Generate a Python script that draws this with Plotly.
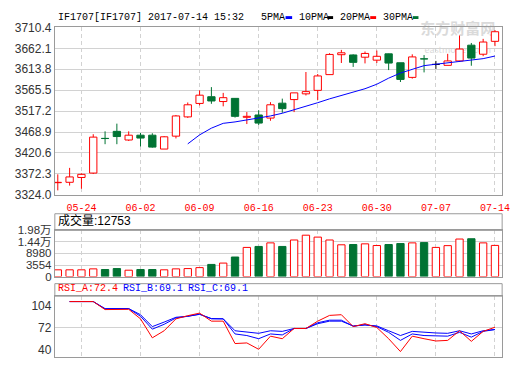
import plotly.graph_objects as go

# ---------------- data ----------------
dates = ["05-22", "05-23", "05-24", "05-25", "05-26", "05-31", "06-01", "06-02",
         "06-05", "06-06", "06-07", "06-08", "06-09",
         "06-12", "06-13", "06-14", "06-15", "06-16",
         "06-19", "06-20", "06-21", "06-22", "06-23",
         "06-26", "06-27", "06-28", "06-29", "06-30",
         "07-03", "07-04", "07-05", "07-06", "07-07",
         "07-10", "07-11", "07-12", "07-13", "07-14"]

open_ = [3351.8, 3352.7, 3363.8, 3374.0, 3454.2, 3470.4, 3450.4, 3461.5, 3461.5, 3429.5,
         3459.3, 3503.8, 3534.9, 3550.4, 3539.3, 3546.6, 3502.9, 3508.2, 3501.1, 3535.5,
         3543.8, 3557.1, 3565.1, 3601.5, 3647.5, 3646.9, 3641.7, 3634.9, 3649.5, 3628.9,
         3595.1, 3638.0, 3625.1, 3622.9, 3633.1, 3669.5, 3648.6, 3678.4]
high = [3371.1, 3386.0, 3373.3, 3463.8, 3470.4, 3488.2, 3470.4, 3466.6, 3466.0, 3459.3,
        3508.2, 3537.1, 3565.1, 3572.6, 3559.3, 3547.0, 3514.9, 3519.3, 3537.8, 3546.0,
        3559.5, 3607.5, 3602.9, 3651.0, 3658.6, 3648.4, 3654.9, 3657.1, 3650.0, 3629.0,
        3648.4, 3646.6, 3633.1, 3649.5, 3691.9, 3674.6, 3684.1, 3704.4]
low = [3334.0, 3345.1, 3337.8, 3371.8, 3440.7, 3440.7, 3448.2, 3435.5, 3432.7, 3429.5,
       3454.0, 3501.5, 3530.4, 3534.0, 3528.2, 3502.2, 3487.3, 3485.1, 3494.9, 3513.3,
       3514.9, 3553.3, 3542.9, 3601.0, 3628.4, 3619.3, 3627.4, 3628.4, 3612.0, 3584.4,
       3592.2, 3606.6, 3614.6, 3622.9, 3630.9, 3622.0, 3644.1, 3667.3]
close = [3352.6, 3365.1, 3371.1, 3457.1, 3453.8, 3458.4, 3461.5, 3454.9, 3434.0, 3457.8,
         3506.0, 3531.8, 3554.0, 3540.6, 3548.2, 3505.1, 3505.1, 3489.5, 3531.8, 3522.9,
         3559.3, 3562.2, 3598.4, 3648.1, 3651.9, 3629.8, 3650.4, 3643.8, 3628.2, 3590.4,
         3642.4, 3637.6, 3625.1, 3633.1, 3660.6, 3639.7, 3676.8, 3700.6]

ma_line = [None] * 11 + [3441.5, 3462.2, 3477.8, 3488.9, 3492.2, 3496.6, 3501.1, 3506.0,
                         3512.2, 3520.0, 3528.2, 3536.6, 3545.5, 3553.3, 3561.1, 3568.9,
                         3579.3, 3593.3, 3605.1, 3614.4, 3622.2, 3625.5, 3628.4, 3631.1,
                         3634.4, 3638.4, 3644.4]

volume = [1298, 1298, 1298, 1749, 1433, 1885, 1118, 1433, 1433, 1298,
          1749, 1885, 2336, 3825, 4457, 7300, 11813, 12265, 13935, 12265,
          15288, 17545, 16642, 15288, 13032, 13167, 13483, 12700, 13167, 13619,
          13935, 14070, 11813, 12650, 15740, 15875, 13935, 12753]

rsi_a = [None, 109.5, 109.5, 109.5, 97.9, 98.3, 98.3, 84.5, 57.1, 67.3, 84.5,
         89.1, 92.8, 81.2, 81.2, 48.8, 49.7, 40.5, 59.5, 55.8, 70.6,
         70.6, 81.2, 89.5, 90.5, 73.3, 77.5, 72.0, 55.8, 37.2, 59.5,
         55.8, 52.5, 53.4, 67.3, 52.0, 66.4, 72.4]
rsi_b = [None, 109.5, 109.5, 109.5, 98.8, 99.3, 99.3, 88.2, 69.6, 76.6, 85.8,
         88.2, 91.4, 84.5, 84.5, 62.7, 60.4, 55.8, 62.7, 61.3, 70.6,
         70.6, 78.9, 82.6, 82.6, 73.8, 76.1, 73.3, 65.0, 53.4, 62.7,
         60.4, 59.5, 59.5, 65.0, 58.1, 66.4, 69.1]
rsi_c = [None, 109.5, 109.5, 109.5, 99.3, 99.3, 99.3, 90.5, 73.3, 79.8, 86.8,
         88.2, 91.0, 85.0, 84.5, 67.3, 65.9, 63.6, 67.3, 66.4, 70.6,
         70.6, 77.5, 81.2, 81.2, 74.3, 75.6, 74.3, 67.3, 60.4, 66.4,
         65.0, 64.1, 63.6, 67.3, 62.7, 67.3, 69.1]

price_ticks = [3324.0, 3372.3, 3420.6, 3468.9, 3517.2, 3565.5, 3613.8, 3662.1, 3710.4]
vol_floor = -1861          # bottom of the volume scale (labelled "0" in the source chart)
vol_ticks = [vol_floor, 3554, 8980, 14400, 19800]
vol_tick_text = ["0", "3554", "8980", "1.44万", "1.98万"]
rsi_ticks = [40, 72, 104]
date_ticks = ["05-24", "06-02", "06-09", "06-16", "06-23", "06-30", "07-07", "07-14"]
title_text = "IF1707[IF1707] 2017-07-14 15:32"
vol_header = "成交量:12753"
rsi_header = [("RSI_A:72.4", "#ff0000"), ("RSI_B:69.1", "#0000ff"), ("RSI_C:69.1", "#0000ff")]
ma_legend = [("5PMA", "#0000ff"), ("10PMA", "#000000"), ("20PMA", "#ff0000"), ("30PMA", "#007333")]

# ---------------- style ----------------
W, H = 520, 365
RED = "#ff0000"
GREEN = "#007333"
GRID = "#d2d2d2"
FRAME = "#9a9a9a"
DASH = "4px,3px"
MONO = "Liberation Mono, DejaVu Sans Mono, monospace"
SANS = "Liberation Sans, Arial, Noto Sans CJK SC, sans-serif"

def px_x(p):
    return p / W

def px_y(p):
    return 1 - p / H

XD = [px_x(55.7), px_x(510)]
idx = list(range(len(dates)))
tick_idx = [dates.index(d) for d in date_ticks]

fig = go.Figure()

# ---- candles: wicks ----
def wick_segments(cond):
    xs, ys = [], []
    for i in idx:
        o, c = open_[i], close[i]
        if not cond(o, c):
            continue
        top, bot = max(o, c), min(o, c)
        xs += [i, i, None, i, i, None]
        ys += [high[i], top, None, bot, low[i], None]
    return xs, ys

for cond, col in [(lambda o, c: c > o, RED), (lambda o, c: c < o, GREEN),
                  (lambda o, c: c == o, "#000000")]:
    wx, wy = wick_segments(cond)
    fig.add_trace(go.Scatter(x=wx, y=wy, mode="lines", line=dict(color=col, width=1),
                             hoverinfo="skip", showlegend=False, xaxis="x", yaxis="y"))

# ---- candles: bodies ----
body_fill, body_line = [], []
for o, c in zip(open_, close):
    if c > o:
        body_fill.append("#ffffff"); body_line.append(RED)
    elif c < o:
        body_fill.append(GREEN); body_line.append(GREEN)
    else:
        body_fill.append("#000000"); body_line.append("#000000")
fig.add_trace(go.Bar(x=idx, y=[abs(c - o) for o, c in zip(open_, close)],
                     base=[min(o, c) for o, c in zip(open_, close)],
                     width=0.62, marker=dict(color=body_fill, line=dict(color=body_line, width=1)),
                     showlegend=False, xaxis="x", yaxis="y"))

# ---- moving average ----
fig.add_trace(go.Scatter(x=idx, y=ma_line, mode="lines", line=dict(color="#0000ff", width=1),
                         showlegend=False, xaxis="x", yaxis="y"))

# ---- volume ----
vfill, vline = [], []
for o, c in zip(open_, close):
    if c >= o:
        vfill.append("#ffffff"); vline.append(RED)
    else:
        vfill.append(GREEN); vline.append(GREEN)
fig.add_trace(go.Bar(x=idx, y=[v - vol_floor for v in volume], base=vol_floor, width=0.62,
                     marker=dict(color=vfill, line=dict(color=vline, width=1)),
                     showlegend=False, xaxis="x2", yaxis="y2"))

# ---- RSI ----
for series, col in [(rsi_c, "#0000ff"), (rsi_b, "#0000ff"), (rsi_a, "#ff0000")]:
    fig.add_trace(go.Scatter(x=idx, y=series, mode="lines", line=dict(color=col, width=1),
                             showlegend=False, xaxis="x3", yaxis="y3"))

# ---------------- axes ----------------
xcommon = dict(range=[-0.25, 37.608], tickmode="array", tickvals=tick_idx,
               showgrid=True, gridcolor=GRID, griddash=DASH, gridwidth=1,
               showline=True, linecolor=FRAME, linewidth=1, mirror=True,
               zeroline=False, domain=XD, fixedrange=True)
ycommon = dict(gridcolor=GRID, gridwidth=1, showline=True,
               linecolor=FRAME, linewidth=1, mirror=True, zeroline=False,
               tickfont=dict(family=SANS, size=12, color="#333333"), ticks="",
               fixedrange=True)

fig.update_layout(
    width=W, height=H, margin=dict(l=0, r=0, t=0, b=0),
    paper_bgcolor="#ffffff", plot_bgcolor="#ffffff",
    bargap=0, barmode="overlay", showlegend=False,
    xaxis=dict(**xcommon, anchor="y", ticktext=date_ticks, showticklabels=True,
               tickfont=dict(family=MONO, size=10, color=RED),
               ticks="outside", ticklen=3, tickcolor="rgba(0,0,0,0)"),
    yaxis=dict(**ycommon, showgrid=True, domain=[px_y(195.2), px_y(21.3)],
               range=[3324.0, 3710.4], tickmode="array", tickvals=price_ticks,
               ticktext=[f"{v:.1f}" for v in price_ticks]),
    xaxis2=dict(**xcommon, anchor="y2", showticklabels=False, matches="x"),
    yaxis2=dict(**{k: v for k, v in ycommon.items() if k != "tickfont"},
                tickfont=dict(family=SANS, size=11.5, color="#333333"),
                showgrid=True, domain=[px_y(280.3), px_y(232.3)], range=[vol_floor, 19800],
                tickmode="array", tickvals=vol_ticks, ticktext=vol_tick_text, anchor="x2"),
    xaxis3=dict(**xcommon, anchor="y3", showticklabels=False, matches="x"),
    yaxis3=dict(**ycommon, showgrid=False,
                domain=[px_y(364.3), px_y(300.7)], range=[28.9, 117.3],
                tickmode="array", tickvals=rsi_ticks, anchor="x3"),
)

shapes = [
    # header boxes of volume and RSI panels
    dict(type="rect", xref="paper", yref="paper", x0=XD[0], x1=XD[1],
         y0=px_y(232.3), y1=px_y(215), line=dict(color=FRAME, width=1)),
    dict(type="rect", xref="paper", yref="paper", x0=XD[0], x1=XD[1],
         y0=px_y(300.7), y1=px_y(287.7), line=dict(color=FRAME, width=1)),
    # RSI middle grid line
    dict(type="line", xref="x3 domain", yref="y3", x0=0, x1=1, y0=72, y1=72,
         line=dict(color=GRID, width=1), layer="below"),
    # watermark
    dict(type="rect", xref="paper", yref="paper", x0=px_x(418), x1=px_x(512),
         y0=px_y(45), y1=px_y(21), line=dict(width=0), layer="between",
         label=dict(text="<b>东方财富网</b><br><span style='font-size:9px'>eastmoney.com</span>",
                    font=dict(family="Noto Sans CJK SC", size=15, color="#dadada"),
                    textposition="middle center")),
]
# MA legend marks
mark_pos = [(290, 296.7), (332.7, 338.3), (376, 382), (419.3, 425)]
for (x0, x1), (_, col) in zip(mark_pos, ma_legend):
    shapes.append(dict(type="rect", xref="paper", yref="paper", x0=px_x(x0), x1=px_x(x1),
                       y0=px_y(12.5), y1=px_y(9.5), line=dict(width=0), fillcolor=col))
fig.update_layout(shapes=shapes)

ann = []
ann.append(dict(text=title_text, x=px_x(56.5), y=px_y(10.5), xref="paper", yref="paper",
                xanchor="left", yanchor="middle", showarrow=False,
                font=dict(family=MONO, size=10, color="#000000")))
for (txt, _), xp in zip(ma_legend, [262.7, 301.7, 343.3, 386.7]):
    ann.append(dict(text=txt, x=px_x(xp), y=px_y(10.5), xref="paper", yref="paper",
                    xanchor="left", yanchor="middle", showarrow=False,
                    font=dict(family=MONO, size=10, color="#000000")))
ann.append(dict(text=vol_header, x=px_x(57), y=px_y(222.5), xref="paper", yref="paper",
                xanchor="left", yanchor="middle", showarrow=False,
                font=dict(family=SANS, size=12, color="#000000")))
for (txt, col), xp in zip(rsi_header, [57.3, 122.7, 189]):
    ann.append(dict(text=txt, x=px_x(xp), y=px_y(293), xref="paper", yref="paper",
                    xanchor="left", yanchor="middle", showarrow=False,
                    font=dict(family=MONO, size=10, color=col)))
fig.update_layout(annotations=ann)

fig.write_html("out.html", config={"displayModeBar": False, "staticPlot": True},
               post_script="document.body.style.margin='0';")
